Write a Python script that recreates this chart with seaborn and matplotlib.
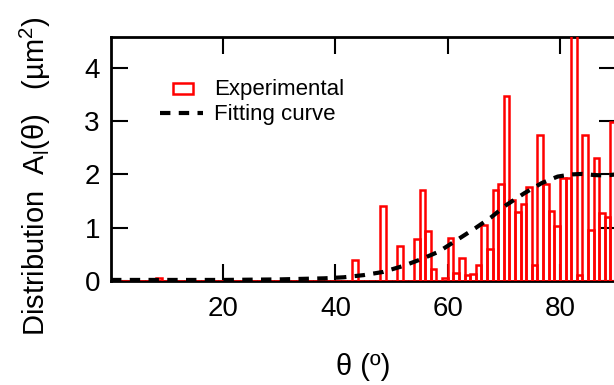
import numpy as np
import pandas as pd
import matplotlib
matplotlib.use("Agg")
import matplotlib.pyplot as plt
import seaborn as sns
from matplotlib.patches import Rectangle, Patch
from matplotlib.lines import Line2D
from matplotlib.legend_handler import HandlerPatch

# ---- data ----
bin_left = [8, 43, 48, 51, 54, 55, 56, 57, 59, 60, 61, 62, 63, 64, 65, 66, 67,
            68, 69, 70, 71, 72, 73, 74, 75, 76, 77, 78, 79, 80, 81, 82, 83, 84,
            85, 86, 87, 88, 89]
dist = [0.05, 0.39, 1.41, 0.66, 0.78, 1.71, 0.93, 0.22, 0.05, 0.80, 0.15, 0.43,
        0.11, 0.13, 0.30, 1.06, 0.60, 1.70, 1.82, 3.48, 1.52, 1.30, 1.45, 1.77,
        0.30, 2.74, 1.82, 1.32, 1.03, 1.93, 1.93, 4.70, 0.11, 2.74, 0.96, 2.30,
        1.28, 1.20, 2.98]
fit_theta = [0, 10, 20, 30, 38, 41.5, 45, 48.5, 52, 55.3, 58.4, 61.8, 64.9,
             67.8, 70.5, 73.7, 76.8, 79.6, 82, 84, 86, 88, 90]
fit_dist = [0.02, 0.02, 0.02, 0.03, 0.05, 0.07, 0.11, 0.17, 0.28, 0.41, 0.55,
            0.78, 0.99, 1.20, 1.43, 1.65, 1.84, 1.96, 2.0, 2.01, 1.99, 1.98, 2.0]
x_ticks = [20, 40, 60, 80]
y_ticks = [0, 1, 2, 3, 4]
legend_labels = ["Experimental", "Fitting curve"]

sns.set_theme(style="ticks")
plt.rcParams['font.family'] = ['Liberation Sans', 'DejaVu Sans']
plt.rcParams['mathtext.fontset'] = 'custom'
plt.rcParams['mathtext.rm'] = 'Liberation Sans'
plt.rcParams['mathtext.it'] = 'Liberation Sans:italic'
plt.rcParams['text.color'] = 'black'
plt.rcParams['axes.labelcolor'] = 'black'
plt.rcParams['xtick.color'] = 'black'
plt.rcParams['ytick.color'] = 'black'

W, H = 614, 385
fig = plt.figure(figsize=(W / 100, H / 100), dpi=100)
L, R, T, B = 111, 616, 37, 281
ax = fig.add_axes([L / W, (H - B) / H, (R - L) / W, (B - T) / H])

RED = "#ff0000"
df = pd.DataFrame({"theta": np.array(bin_left) + 0.5, "dist": dist})
sns.histplot(data=df, x="theta", weights="dist", binwidth=1, binrange=(0, 90),
             fill=False, element="bars", color=RED, linewidth=1.8, ax=ax,
             zorder=3)

DASH = (0, (2.5, 2.0))
fit_df = pd.DataFrame({"theta": fit_theta, "dist": fit_dist})
sns.lineplot(data=fit_df, x="theta", y="dist", color="black", linewidth=3.0,
             linestyle=DASH, ax=ax, zorder=4)

ax.set_xlim(0, 90)
ax.set_ylim(0, 4.58)
ax.set_xticks(x_ticks)
ax.set_yticks(y_ticks)
ax.tick_params(direction="in", length=12, width=1.5, top=True, right=True,
               labelsize=20, colors="black")
ax.tick_params(axis="x", pad=11)
ax.tick_params(axis="y", pad=8)
for s in ax.spines.values():
    s.set_linewidth(2)
    s.set_color("black")
    s.set_zorder(2)

ax.set_xlabel("θ (º)", fontsize=21, labelpad=22)
ax.set_ylabel(r"Distribution  A$_\mathregular{l}$(θ)   (µm$^\mathregular{2}$)",
              fontsize=21)
ax.yaxis.set_label_coords(-0.114, 0.43)


def small_patch(legend, orig_handle, xdescent, ydescent, width, height, fontsize):
    w = width * 0.47
    return Rectangle((-xdescent + width * 0.3, -ydescent + height * 0.05),
                     w, height * 0.75)


handles = [Patch(facecolor="none", edgecolor=RED, linewidth=1.8),
           Line2D([], [], color="black", linewidth=3.0, linestyle=DASH)]
ax.legend(handles, legend_labels, loc="upper left",
          bbox_to_anchor=(160 / W, 1 - 79 / H), bbox_transform=fig.transFigure,
          frameon=False, fontsize=16, handlelength=1.95, handletextpad=0.5,
          borderpad=0, borderaxespad=0, labelspacing=0.2,
          handler_map={Patch: HandlerPatch(patch_func=small_patch)})

fig.savefig("out.png", dpi=100)
